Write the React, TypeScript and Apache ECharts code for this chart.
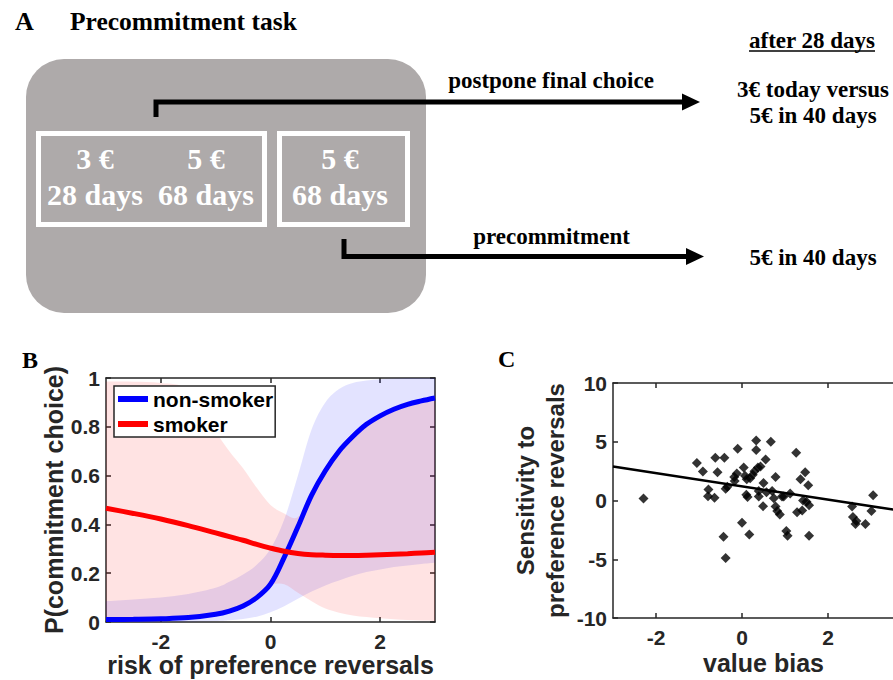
import React, { useEffect, useRef } from 'react';
import * as echarts from 'echarts';

// ---------- Panel B data ----------
const riskX = [-3, -2.5, -2, -1.5, -1, -0.75, -0.5, -0.25, 0, 0.25, 0.5, 0.75, 1, 1.25, 1.5, 1.75, 2, 2.25, 2.5, 2.75, 3];
const nonSmokerP = [0.010, 0.011, 0.013, 0.018, 0.032, 0.045, 0.066, 0.10, 0.155, 0.265, 0.39, 0.52, 0.62, 0.70, 0.76, 0.81, 0.845, 0.872, 0.892, 0.906, 0.918];
const nonSmokerLo = [0.0, 0.0, 0.001, 0.002, 0.004, 0.007, 0.012, 0.022, 0.04, 0.065, 0.095, 0.125, 0.15, 0.17, 0.19, 0.205, 0.215, 0.225, 0.232, 0.238, 0.243];
const nonSmokerHi = [0.085, 0.092, 0.10, 0.115, 0.14, 0.165, 0.195, 0.235, 0.30, 0.42, 0.60, 0.79, 0.90, 0.955, 0.98, 0.99, 0.995, 0.998, 1.0, 1.0, 1.0];
const smokerP = [0.466, 0.445, 0.422, 0.395, 0.365, 0.35, 0.335, 0.318, 0.303, 0.29, 0.281, 0.276, 0.274, 0.273, 0.273, 0.274, 0.276, 0.278, 0.28, 0.283, 0.286];
const smokerLo = [0.0, 0.003, 0.008, 0.015, 0.03, 0.045, 0.07, 0.11, 0.15, 0.155, 0.12, 0.085, 0.055, 0.038, 0.027, 0.02, 0.015, 0.011, 0.008, 0.006, 0.004];
const smokerHi = [0.985, 0.985, 0.98, 0.95, 0.78, 0.70, 0.63, 0.55, 0.48, 0.445, 0.43, 0.53, 0.635, 0.715, 0.775, 0.82, 0.85, 0.878, 0.897, 0.911, 0.923];
const riskTicks = [-2, 0, 2];

// ---------- Panel C data ----------
const valueBias = [-2.29, -1.05, -0.91, -0.78, -0.79, -0.64, -0.62, -0.57, -0.41, -0.38, -0.34, -0.43, -0.38, -0.10, -0.18, -0.12, -0.17, 0.0, 0.04, 0.07, 0.11, 0.10, 0.13, 0.17, 0.19, 0.25, 0.29, 0.33, 0.33, 0.37, 0.43, 0.39, 0.39, 0.49, 0.50, 0.55, 0.57, 0.67, 0.70, 0.74, 0.78, 0.78, 0.82, 0.88, 0.93, 0.97, 1.03, 1.06, 1.12, 1.26, 1.28, 1.36, 1.40, 1.42, 1.47, 1.50, 1.54, 1.56, 1.56, 2.56, 2.58, 2.64, 2.66, 2.87, 3.01, 3.05];
const sensitivity = [0.17, 3.2, 2.47, 0.94, 0.37, 0.23, 3.63, 2.41, 3.63, 1.0, 1.17, -3.09, -4.9, 4.4, 2.0, 2.3, 1.65, -1.9, 2.8, 2.1, 1.8, 0.5, 0.3, -2.9, 1.9, 2.2, 2.5, 5.1, 4.3, 2.8, 2.9, 0.35, 0.8, -0.48, 1.5, 3.5, 0.7, 5.0, 0.8, 0.2, 2.0, -0.5, -0.9, -1.2, 0.35, 0.35, -2.6, -3.0, 0.6, 4.06, -1.0, 1.8, -0.85, 0.0, 2.4, -0.1, 1.3, -3.0, -0.4, -0.5, -1.4, -2.0, -1.75, -2.0, -0.9, 0.45];
const fitX = [-3, 4];
const fitY = [2.9, -1.05];
const biasTicks = [-2, 0, 2];

// ---------- Panel A texts ----------
const boxTexts = [
  { x: 95, top: '3 €', bottom: '28 days' },
  { x: 206, top: '5 €', bottom: '68 days' },
  { x: 340, top: '5 €', bottom: '68 days' },
];

const SANS = "'Liberation Sans', Arial, sans-serif";
const SERIF = "'Liberation Serif', 'Times New Roman', serif";
const AX = '#262626';

function serifText(text: string, x: number, y: number, size: number, fill: string, align = 'center') {
  return {
    type: 'text',
    x,
    y,
    silent: true,
    style: {
      text,
      fill,
      fontFamily: SERIF,
      fontWeight: 'bold',
      fontSize: size,
      align,
      verticalAlign: 'middle',
    },
  };
}

function axisBase(gridIndex: number, position: string, min: number, max: number) {
  return {
    gridIndex,
    type: 'value',
    position,
    min,
    max,
    splitLine: { show: false },
    axisLine: { show: true, onZero: false, lineStyle: { color: AX, width: 1.5 } },
  };
}

// Catmull-Rom spline through screen points, as cubic Bezier commands
function splineSegments(p: number[][]): string {
  let d = '';
  for (let i = 0; i < p.length - 1; i++) {
    const p0 = p[i - 1] || p[i];
    const p1 = p[i];
    const p2 = p[i + 1];
    const p3 = p[i + 2] || p[i + 1];
    const c1x = p1[0] + (p2[0] - p0[0]) / 6;
    const c1y = p1[1] + (p2[1] - p0[1]) / 6;
    const c2x = p2[0] - (p3[0] - p1[0]) / 6;
    const c2y = p2[1] - (p3[1] - p1[1]) / 6;
    d += ` C${c1x},${c1y} ${c2x},${c2y} ${p2[0]},${p2[1]}`;
  }
  return d;
}

const labelStyle = { fontFamily: SANS, fontWeight: 'bold', fontSize: 21, color: AX };
const nameStyle = { fontFamily: SANS, fontWeight: 'bold', fontSize: 25, lineHeight: 20, color: AX };

export default function App() {
  const ref = useRef<HTMLDivElement>(null);
  useEffect(() => {
    if (!ref.current) return;
    const chart = echarts.init(ref.current, null, { renderer: 'svg' });

    const graphicElements: any[] = [
      serifText('A', 15, 21.5, 26, '#000', 'left'),
      serifText('Precommitment task', 70, 21.5, 25.5, '#000', 'left'),
      { type: 'rect', silent: true, shape: { x: 26, y: 59, width: 400, height: 254, r: 38 }, style: { fill: '#aeaaaa' } },
      { type: 'rect', silent: true, shape: { x: 38.5, y: 133.5, width: 226, height: 91 }, style: { fill: 'none', stroke: '#fff', lineWidth: 5 } },
      { type: 'rect', silent: true, shape: { x: 279.5, y: 133.5, width: 128, height: 91 }, style: { fill: 'none', stroke: '#fff', lineWidth: 5 } },
      { type: 'polyline', silent: true, shape: { points: [[156, 117], [156, 102], [684, 102]] }, style: { stroke: '#000', lineWidth: 5, fill: 'none', lineJoin: 'miter' } },
      { type: 'polygon', silent: true, shape: { points: [[682, 93.5], [700, 102], [682, 110.5]] }, style: { fill: '#000' } },
      { type: 'polyline', silent: true, shape: { points: [[344, 239], [344, 256.5], [688, 256.5]] }, style: { stroke: '#000', lineWidth: 5, fill: 'none', lineJoin: 'miter' } },
      { type: 'polygon', silent: true, shape: { points: [[686, 248], [704, 256.5], [686, 265]] }, style: { fill: '#000' } },
      serifText('postpone final choice', 551, 80.5, 23, '#000'),
      serifText('precommitment', 551.5, 236, 23, '#000'),
      serifText('after 28 days', 812, 40, 23, '#000'),
      { type: 'line', silent: true, shape: { x1: 749, y1: 51, x2: 875, y2: 51 }, style: { stroke: '#000', lineWidth: 1.5 } },
      serifText('3€ today versus', 813, 89, 23, '#000'),
      serifText('5€ in 40 days', 813, 115.5, 23, '#000'),
      serifText('5€ in 40 days', 813, 257.5, 23, '#000'),
      serifText('B', 22, 360, 24, '#000', 'left'),
      serifText('C', 498, 358.5, 24, '#000', 'left'),
    ];
    boxTexts.forEach((b) => {
      graphicElements.push(serifText(b.top, b.x, 158, 30, '#fff'));
      graphicElements.push(serifText(b.bottom, b.x, 194.5, 30, '#fff'));
    });

    const pts = (ys: number[]) => ys.map((y, i) => [riskX[i], y]);
    const bandSeries = (name: string, lo: number[], hi: number[], color: string) => ({
      name,
      type: 'custom',
      xAxisIndex: 0,
      yAxisIndex: 0,
      silent: true,
      clip: true,
      z: 1,
      data: [[0, 0]],
      renderItem: (_params: any, api: any) => {
        const top = riskX.map((x, i) => api.coord([x, hi[i]]));
        const bot = riskX.map((x, i) => api.coord([x, lo[i]])).reverse();
        const d =
          `M${top[0][0]},${top[0][1]}` + splineSegments(top) +
          ` L${bot[0][0]},${bot[0][1]}` + splineSegments(bot) + ' Z';
        return { type: 'path', shape: { pathData: d }, style: { fill: color, stroke: 'none' } };
      },
    });

    const option: any = {
      animation: false,
      backgroundColor: '#fff',
      graphic: { elements: graphicElements },
      grid: [
        { left: 106, top: 378, width: 329, height: 244, outerBoundsMode: 'none', containLabel: false },
        { left: 613, top: 383, width: 301, height: 235, outerBoundsMode: 'none', containLabel: false },
      ],
      legend: {
        data: [
          { name: 'non-smoker', icon: 'rect' },
          { name: 'smoker', icon: 'rect' },
        ],
        left: 114,
        top: 386,
        orient: 'vertical',
        itemWidth: 30,
        itemHeight: 6,
        itemGap: 4,
        padding: [2.5, 2, 2.5, 4],
        backgroundColor: '#fff',
        borderColor: AX,
        borderWidth: 1.5,
        borderRadius: 0,
        selectedMode: false,
        textStyle: { fontFamily: SANS, fontWeight: 'bold', fontSize: 21, lineHeight: 21, color: '#000', padding: 0 },
      },
      xAxis: [
        {
          ...axisBase(0, 'bottom', -3, 3),
          axisTick: { inside: true, length: 5, customValues: riskTicks, lineStyle: { color: AX, width: 1.5 } },
          axisLabel: { ...labelStyle, customValues: riskTicks, margin: 9 },
          name: 'risk of preference reversals',
          nameLocation: 'middle',
          nameGap: 33,
          nameTextStyle: nameStyle,
        },
        {
          ...axisBase(0, 'top', -3, 3),
          axisTick: { inside: true, length: 5, customValues: riskTicks, lineStyle: { color: AX, width: 1.5 } },
          axisLabel: { show: false },
        },
        {
          ...axisBase(1, 'bottom', -3, 4),
          axisTick: { inside: true, length: 5, customValues: biasTicks, lineStyle: { color: AX, width: 1.5 } },
          axisLabel: { ...labelStyle, customValues: biasTicks, margin: 9 },
          name: 'value bias',
          nameLocation: 'middle',
          nameGap: 34.5,
          nameTextStyle: nameStyle,
        },
        {
          ...axisBase(1, 'top', -3, 4),
          axisTick: { inside: true, length: 5, customValues: biasTicks, lineStyle: { color: AX, width: 1.5 } },
          axisLabel: { show: false },
        },
      ],
      yAxis: [
        {
          ...axisBase(0, 'left', 0, 1),
          interval: 0.2,
          axisTick: { inside: true, length: 5, lineStyle: { color: AX, width: 1.5 } },
          axisLabel: { ...labelStyle, margin: 6, showMinLabel: true, showMaxLabel: true },
          name: 'P(commitment choice)',
          nameLocation: 'middle',
          nameGap: 40,
          nameTextStyle: nameStyle,
        },
        {
          ...axisBase(0, 'right', 0, 1),
          interval: 0.2,
          axisTick: { inside: true, length: 5, lineStyle: { color: AX, width: 1.5 } },
          axisLabel: { show: false },
        },
        {
          ...axisBase(1, 'left', -10, 10),
          interval: 5,
          axisTick: { inside: true, length: 5, lineStyle: { color: AX, width: 1.5 } },
          axisLabel: { ...labelStyle, margin: 6, showMinLabel: true, showMaxLabel: true },
          name: 'Sensitivity to\npreference reversals',
          nameLocation: 'middle',
          nameGap: 43,
          nameTextStyle: { ...nameStyle, fontSize: 24, lineHeight: 30 },
        },
      ],
      series: [
        bandSeries('nonSmokerCI', nonSmokerLo, nonSmokerHi, 'rgba(0,0,255,0.11)'),
        bandSeries('smokerCI', smokerLo, smokerHi, 'rgba(255,0,0,0.11)'),
        {
          name: 'non-smoker', type: 'line', xAxisIndex: 0, yAxisIndex: 0, smooth: 0.35, symbol: 'none',
          color: '#0000ff', lineStyle: { color: '#0000ff', width: 5 }, data: pts(nonSmokerP), z: 3,
        },
        {
          name: 'smoker', type: 'line', xAxisIndex: 0, yAxisIndex: 0, smooth: 0.35, symbol: 'none',
          color: '#ff0000', lineStyle: { color: '#ff0000', width: 5 }, data: pts(smokerP), z: 3,
        },
        {
          name: 'subjects', type: 'scatter', xAxisIndex: 2, yAxisIndex: 2, symbol: 'diamond', symbolSize: 10,
          itemStyle: { color: '#000' }, data: valueBias.map((v, i) => [v, sensitivity[i]]), z: 3,
        },
        {
          name: 'fit', type: 'line', xAxisIndex: 2, yAxisIndex: 2, symbol: 'none',
          lineStyle: { color: '#000', width: 2.5 }, data: fitX.map((v, i) => [v, fitY[i]]), z: 2,
        },
      ],
    };
    chart.setOption(option);
    return () => chart.dispose();
  }, []);
  return <div ref={ref} style={{ position: 'absolute', left: 0, top: 0, width: 893, height: 680 }} />;
}
